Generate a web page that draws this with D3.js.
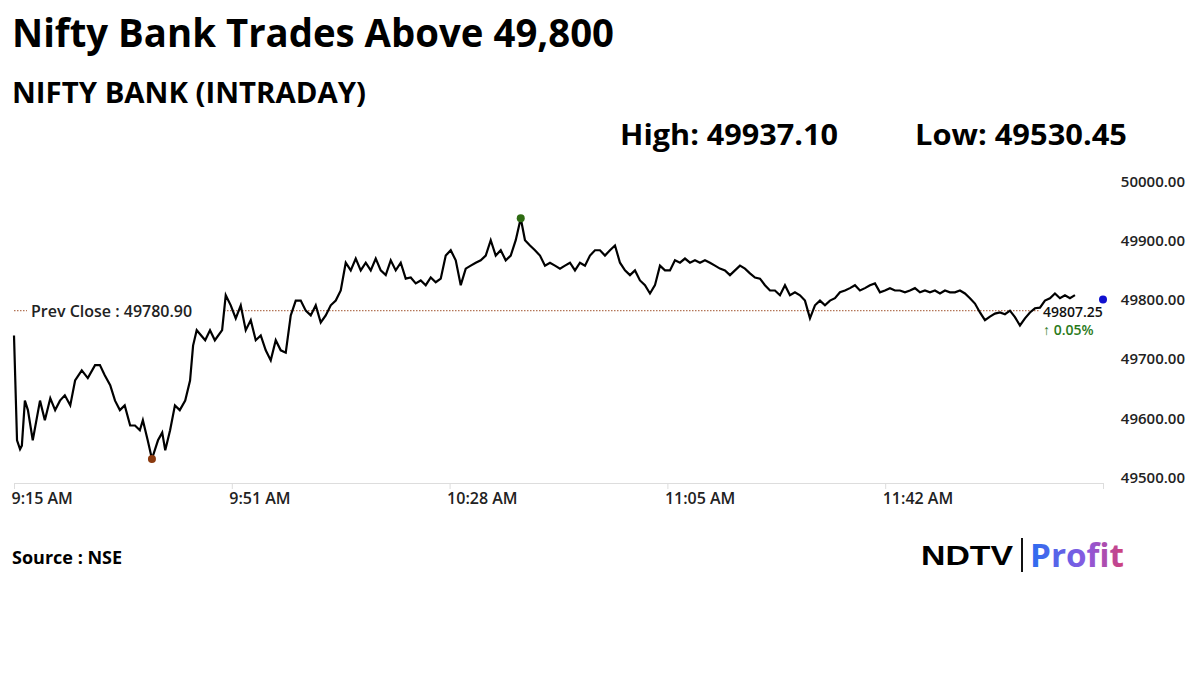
<!DOCTYPE html>
<meta charset="utf-8">
<style>
body { margin: 0; background: #fff; }
svg { font-family: "Open Sans", "Liberation Sans", sans-serif; }
.tick text { font-family: "Open Sans", Arial, sans-serif; font-size: 16px; font-weight: 600; fill: #222; }
</style>
<body>
<script src="https://d3js.org/d3.v7.min.js"></script>
<script>
// minutes after 9:15 for the opening stretch
var openTimes = [0,0.5,1,1.3,1.8,2.3,3.1,4.3,5.1,6,6.8,7.6,8.4,9.3,10.1,11.2,12.2,13.4,14.2,15,15.9,16.7,17.5,18.3,19.2,20,20.8,21.3,22.1,22.8,23.8,24.5,25,25.8,26.6,27.4,28.3,29.1,29.6,30.2,31.6,32.4,33.2,34.4];
var openValues = [49739,49562,49547,49553,49629,49613,49562,49629,49596,49633,49613,49629,49638,49621,49663,49680,49667,49689,49689,49672,49655,49629,49613,49621,49587,49587,49579,49596,49562,49530.45,49562,49575,49545,49579,49621,49613,49629,49663,49722,49748,49731,49748,49731,49748];
// after 9:50, roughly one print every 0.83 min
var midValues = [49807,49790,49768,49790,49748,49765,49731,49739,49714,49697,49731,49714,49710,49773,49798,49798,49781,49773,49790,49761,49773,49790,49798,49815,49862,49849,49869,49849,49862,49849,49869,49849,49841,49866,49849,49862,49835,49837,49827,49832,49824,49837,49829,49835,49874,49883,49866,49824,49852,49857,49862,49866,49874,49900,49874,49883,49866,49874,49900,49937.10];
var lateValues = [49900,49891,49883,49874,49857,49862,49857,49852,49857,49862,49849,49862,49857,49874,49883,49883,49874,49883,49891,49862,49849,49841,49849,49832,49824,49810,49824,49857,49849,49849,49866,49862,49869,49862,49866,49862,49866,49862,49857,49852,49849,49841,49849,49857,49852,49844,49837,49835,49824,49815,49815,49807,49824,49807,49812,49807,49798,49768,49790,49798,49790,49798,49802,49812,49815,49819,49824,49815,49819,49824,49827,49812,49815,49819,49815,49815,49812,49815,49819,49812,49815,49812,49815,49810,49815,49812,49812,49815,49810,49802,49793,49778,49765,49771,49776,49778,49775,49781,49770,49756,49768,49778,49785,49786,49798,49802,49810,49802,49807,49802,49807.25];
var tickMinutes = [0,36,72,108,144,180];
var tickLabels = ["9:15 AM","9:51 AM","10:28 AM","11:05 AM","11:42 AM",""];
var yTicks = [49500,49600,49700,49800,49900,50000];
var prevClose = 49780.90, high = 49937.10, low = 49530.45, last = 49807.25;

var data = [];
openTimes.forEach(function(t, i) { data.push([t, openValues[i]]); });
midValues.forEach(function(v, i) { data.push([35.0 + i * 0.8264, v]); });
lateValues.forEach(function(v, i) { data.push([84.46 + i * 0.8264, v]); });

var W = 1200, H = 674;
var svg = d3.select("body").append("svg").attr("width", W).attr("height", H);

var x = d3.scaleLinear().domain([0, 180]).range([14, 1103]);
var y = d3.scaleLinear().domain([49500, 50000]).range([477, 181]);

function big(xp, yp, size, len, s) {
  svg.append("text").attr("x", xp).attr("y", yp).attr("font-size", size).attr("font-weight", 700)
    .attr("textLength", len).attr("lengthAdjust", "spacingAndGlyphs").text(s);
}
big(12, 47, 40, 602, "Nifty Bank Trades Above 49,800");
big(12, 103, 29, 354, "NIFTY BANK (INTRADAY)");
big(620, 145, 29, 218, "High: 49937.10");
big(915, 145, 29, 212, "Low: 49530.45");

// y axis labels
var ya = svg.append("g").attr("transform", "translate(1188,0)")
  .call(d3.axisLeft(y).tickValues(yTicks).tickSize(0).tickFormat(d3.format(".2f")));
ya.select(".domain").remove();
ya.selectAll("text").attr("dy", "0.35em").style("font-size", "15px");

// x axis
var xa = svg.append("g").attr("transform", "translate(0,483)")
  .call(d3.axisBottom(x).tickValues(tickMinutes).tickSize(6)
    .tickFormat(function(d, i) { return tickLabels[i]; }));
xa.select(".domain").attr("stroke", "#ddd");
xa.selectAll(".tick line").attr("stroke", "#ddd");
xa.selectAll(".tick text").attr("text-anchor", "start").attr("x", -3).attr("y", 10);

// prev close
svg.append("line").attr("x1", 14).attr("x2", 1040).attr("y1", y(prevClose)).attr("y2", y(prevClose))
  .attr("stroke", "#a0522d").attr("stroke-dasharray", "1.5,1.5").attr("stroke-width", 1);
svg.append("rect").attr("x", 27).attr("y", y(prevClose) - 11).attr("width", 196).attr("height", 22).attr("fill", "#fff");
svg.append("text").attr("x", 31).attr("y", y(prevClose) + 6).attr("font-size", 16).attr("font-weight", 600)
  .attr("fill", "#222").text("Prev Close : 49780.90");

var line = d3.line().x(function(d) { return x(d[0]); }).y(function(d) { return y(d[1]); });
svg.append("path").datum(data).attr("d", line).attr("fill", "none").attr("stroke", "#000").attr("stroke-width", 2.2);

var hi = data.find(function(d) { return d[1] === high; });
var lo = data.find(function(d) { return d[1] === low; });
svg.append("circle").attr("cx", x(hi[0])).attr("cy", y(hi[1])).attr("r", 4).attr("fill", "#2e6b12");
svg.append("circle").attr("cx", x(lo[0])).attr("cy", y(lo[1])).attr("r", 4).attr("fill", "#8b3a0f");
svg.append("circle").attr("cx", x(180)).attr("cy", y(49800)).attr("r", 4).attr("fill", "#1010d0");

svg.append("text").attr("x", 1043).attr("y", y(last) + 22).attr("font-size", 14).attr("font-weight", 600)
  .attr("fill", "#111").text("49807.25");
svg.append("text").attr("x", 1043).attr("y", y(last) + 40).attr("font-size", 14).attr("font-weight", 600)
  .attr("fill", "#2a7a1a").text("\u2191 0.05%");

svg.append("text").attr("x", 12).attr("y", 564).attr("font-size", 18).attr("font-weight", 700).text("Source : NSE");

// logo
svg.append("text").attr("x", 921).attr("y", 565).attr("font-size", 27).attr("font-weight", 800)
  .attr("font-family", "Liberation Sans, Arial, sans-serif").attr("textLength", 92)
  .attr("lengthAdjust", "spacingAndGlyphs").text("NDTV");
svg.append("rect").attr("x", 1021).attr("y", 538).attr("width", 2).attr("height", 34).attr("fill", "#111");
var grad = svg.append("defs").append("linearGradient").attr("id", "pg");
grad.append("stop").attr("offset", "0%").attr("stop-color", "#2a6df0");
grad.append("stop").attr("offset", "60%").attr("stop-color", "#8a5ae0");
grad.append("stop").attr("offset", "100%").attr("stop-color", "#d0407a");
svg.append("text").attr("x", 1030).attr("y", 567).attr("font-size", 32).attr("font-weight", 700)
  .attr("fill", "url(#pg)").attr("textLength", 94).attr("lengthAdjust", "spacingAndGlyphs").text("Profit");
</script>
